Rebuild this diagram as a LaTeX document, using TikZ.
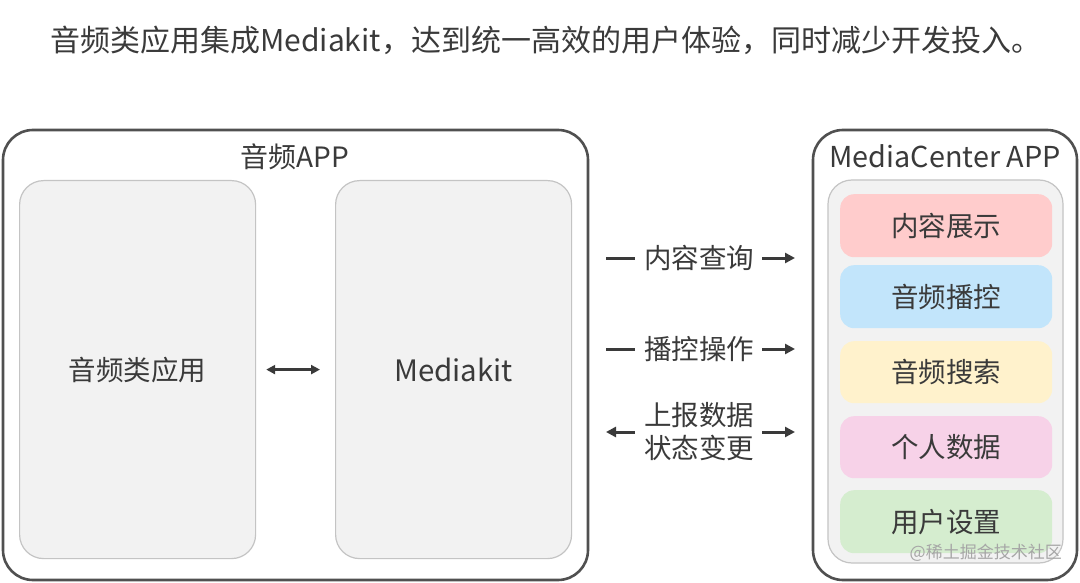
\documentclass[tikz,border=0pt]{standalone}
\usepackage{fontspec}
\setmainfont{Noto Sans CJK SC}
\usetikzlibrary{arrows.meta}
\definecolor{txt}{HTML}{3A3A3A}
\definecolor{frame}{HTML}{505050}
\definecolor{inner}{HTML}{F2F2F2}
\definecolor{innerline}{HTML}{C4C4C4}
\definecolor{cred}{HTML}{FFCCCC}
\definecolor{cblue}{HTML}{C2E5FB}
\definecolor{cyellow}{HTML}{FFF2CC}
\definecolor{cpink}{HTML}{F7D2E8}
\definecolor{cgreen}{HTML}{D5EDCF}
\tikzset{
  outerbox/.style={draw=frame, line width=2.6pt, rounded corners=30pt, fill=white},
  innerbox/.style={draw=innerline, line width=1.2pt, rounded corners=24pt, fill=inner},
  colbox/.style={rounded corners=14pt, draw=none, text=txt, font=\fontsize{27.5}{32}\selectfont},
  lbl/.style={text=txt, font=\fontsize{27.5}{32}\selectfont, inner sep=0pt},
  conn/.style={draw=txt, line width=3pt},
  tip/.style={-{Triangle[length=10pt,width=10pt]}},
}
\begin{document}
\begin{tikzpicture}[x=1pt,y=-1pt]
\useasboundingbox (0,0) rectangle (1080,583);
\fill[white] (0,0) rectangle (1080,583);

% title
\node[lbl, font=\fontsize{30}{34}\selectfont, anchor=west] (title) at (50,40) {音频类应用集成Mediakit，达到统一高效的用户体验，同时减少开发投入。};

% left app
\draw[outerbox] (3,130) rectangle (588,580);
\node[lbl, font=\fontsize{28}{32}\selectfont] (apptitle) at (295,157) {音频APP};
\node[innerbox, minimum width=236pt, minimum height=378pt, anchor=north west] (app) at (19,180) {};
\node[lbl] at (app.center) {音频类应用};
\node[innerbox, minimum width=236pt, minimum height=378pt, anchor=north west] (kit) at (335,180) {};
\node[lbl, font=\fontsize{29.5}{32}\selectfont] at (kit.center) {Mediakit};
\draw[conn, {Triangle[length=9pt,width=9pt]}-{Triangle[length=9pt,width=9pt]}, shorten <=10pt, shorten >=15pt] (app.east) -- (kit.west);

% right app
\draw[outerbox] (813,130) rectangle (1077,580);
\node[lbl, font=\fontsize{28.8}{34}\selectfont] (mctitle) at (945,156) {MediaCenter APP};
\draw[innerbox] (828,180) rectangle (1063,563);
\node[colbox, fill=cred, minimum width=212pt, minimum height=63pt, anchor=north west] (b1) at (840,194) {内容展示};
\node[colbox, fill=cblue, minimum width=212pt, minimum height=63pt, anchor=north west] (b2) at (840,265) {音频播控};
\node[colbox, fill=cyellow, minimum width=212pt, minimum height=62pt, anchor=north west] (b3) at (840,341) {音频搜索};
\node[colbox, fill=cpink, minimum width=212pt, minimum height=62pt, anchor=north west] (b4) at (840,416) {个人数据};
\node[colbox, fill=cgreen, minimum width=212pt, minimum height=63pt, anchor=north west] (b5) at (840,490) {用户设置};

% connectors
\node[lbl] (q) at (699,258) {内容查询};
\node[lbl] (p) at (699,349) {播控操作};
\node[lbl, align=center, font=\fontsize{27.5}{33}\selectfont] (r) at (699,432) {上报数据\\状态变更};
\coordinate (q0) at (606,258); \coordinate (q1) at (795,258);
\coordinate (p0) at (606,349); \coordinate (p1) at (795,349);
\coordinate (r0) at (606,432); \coordinate (r1) at (795,432);
\draw[conn] (q0) -- ([xshift=-9pt]q.west);
\draw[conn, tip] ([xshift=8pt]q.east) -- (q1);
\draw[conn] (p0) -- ([xshift=-9pt]p.west);
\draw[conn, tip] ([xshift=8pt]p.east) -- (p1);
\draw[conn, tip] ([xshift=-9pt]r.west) -- (r0);
\draw[conn, tip] ([xshift=8pt]r.east) -- (r1);

% watermark
\node[text=black!35, font=\fontsize{17}{20}\selectfont, anchor=east, inner sep=0pt] (wm) at (1062,553) {@稀土掘金技术社区};
\end{tikzpicture}
\end{document}
